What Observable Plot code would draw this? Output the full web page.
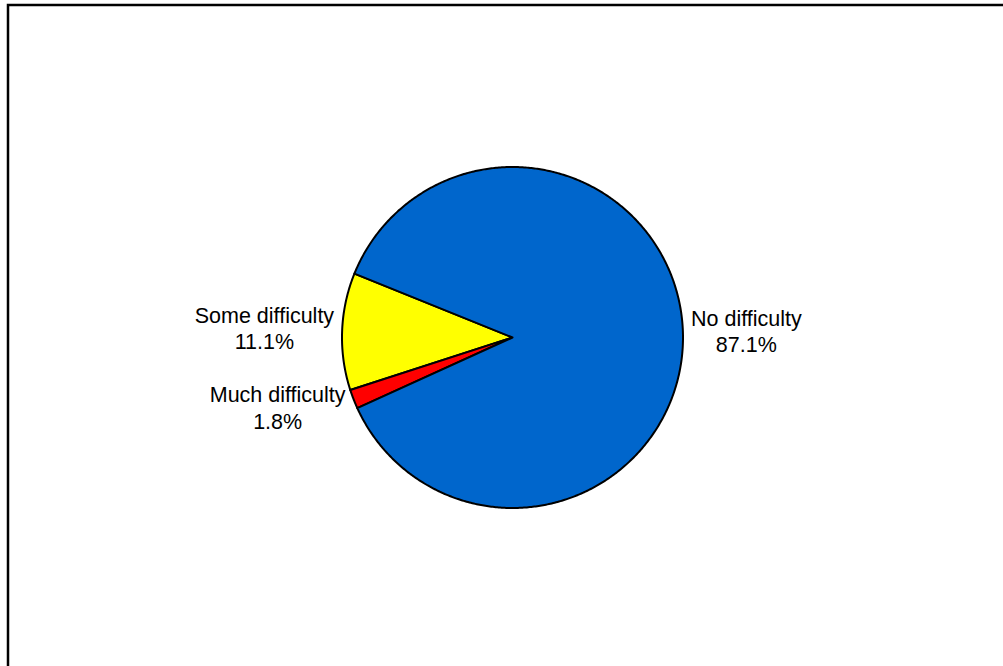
<!DOCTYPE html>
<html><head><meta charset="utf-8">
<script src="https://cdn.jsdelivr.net/npm/d3@7"></script>
<script src="https://cdn.jsdelivr.net/npm/@observablehq/plot@0.6"></script>
<style>html,body{margin:0;padding:0;background:#fff;overflow:hidden}</style>
</head><body><div id="chart"></div>
<script>
// Data
const categories = ["Some difficulty", "Much difficulty", "No difficulty"];
const percents = [11.1, 1.8, 87.1];
const colors = ["#FFFF00", "#FF0000", "#0066CC"];
const startAngle = 158; // degrees, counterclockwise from 3 o'clock

// Layout
const W = 1003, H = 666, cx = 512, cy = 337, R = 170.5;
const fontSize = 21.5, lineHeight = 1.22, gap = 8, lift = 2.5;

const canvas = document.createElement("canvas");
const ctx = canvas.getContext("2d");
ctx.font = `${fontSize}px "Liberation Sans", Arial, sans-serif`;

const total = d3.sum(percents);
const pts = [];
const labels = [];
let a0 = startAngle;
categories.forEach((c, i) => {
  const span = percents[i] / total * 360;
  const n = Math.max(2, Math.ceil(span / 0.5));
  pts.push({cat: c, x: 0, y: 0});
  for (let k = 0; k <= n; k++) {
    const a = (a0 + span * k / n) * Math.PI / 180;
    pts.push({cat: c, x: Math.cos(a), y: Math.sin(a)});
  }
  pts.push({cat: c, x: 0, y: 0});
  const am = (a0 + span / 2) * Math.PI / 180;
  const lines = [c, percents[i].toFixed(1) + "%"];
  const halfW = d3.max(lines, l => ctx.measureText(l).width) / 2;
  const halfH = (fontSize * lineHeight + fontSize * 0.72) / 2;
  const cs = Math.cos(am), sn = Math.sin(am);
  const px = R * cs + Math.sign(cs) * (gap + halfW);
  const py = R * sn + sn * (halfH + gap) + lift;
  labels.push({cat: c, text: lines.join("\n"), x: px / R, y: py / R});
  a0 += span;
});

const chart = Plot.plot({
  width: W, height: H,
  margin: 0,
  x: {domain: [-1, 1], range: [cx - R, cx + R], axis: null},
  y: {domain: [-1, 1], range: [cy + R, cy - R], axis: null},
  color: {type: "ordinal", domain: categories, range: colors},
  style: {background: "#fff", overflow: "visible"},
  marks: [
    Plot.line(pts, {x: "x", y: "y", z: "cat", fill: "cat", stroke: "black", strokeWidth: 2, strokeLinejoin: "round"}),
    Plot.text(labels, {x: "x", y: "y", text: "text", textAnchor: "middle", lineAnchor: "middle",
      lineHeight, fontSize, fontFamily: "Arial, 'Liberation Sans', sans-serif", fill: "black"}),
    Plot.frame({stroke: "black", strokeWidth: 2.5, insetLeft: 7.5, insetTop: 4.5, insetRight: -20, insetBottom: -20})
  ]
});
document.getElementById("chart").appendChild(chart);
</script>
</body></html>
